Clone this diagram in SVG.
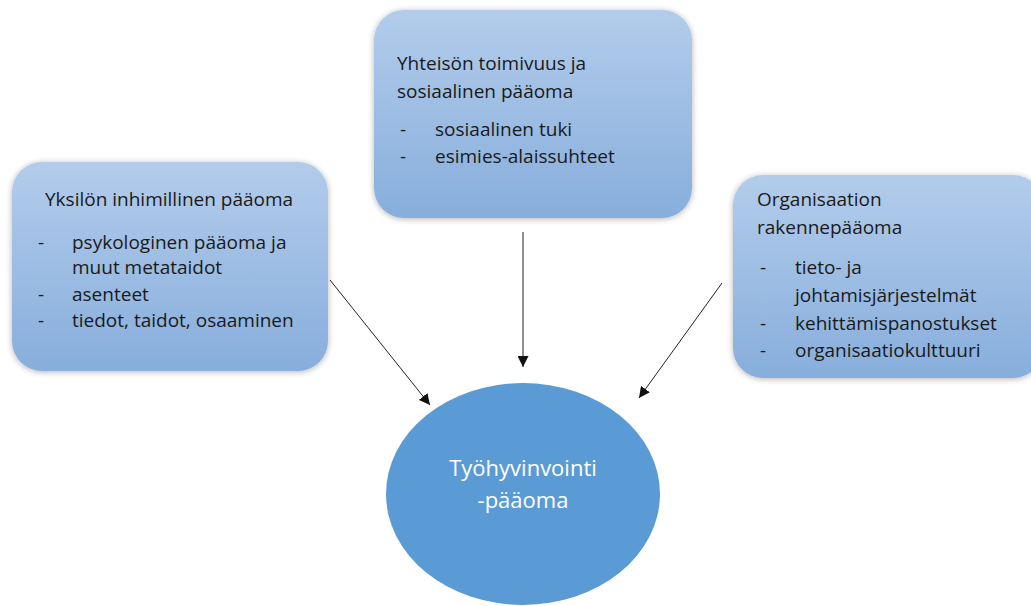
<svg xmlns="http://www.w3.org/2000/svg" width="1031" height="606" viewBox="0 0 1031 606">
<defs>
<linearGradient id="boxg" x1="0" y1="0" x2="0" y2="1">
<stop offset="0" stop-color="#b3cceb"/>
<stop offset="1" stop-color="#87aedc"/>
</linearGradient>
<filter id="sh" x="-10%" y="-10%" width="120%" height="120%">
<feGaussianBlur in="SourceAlpha" stdDeviation="3"/>
<feOffset dx="0" dy="1"/>
<feComponentTransfer><feFuncA type="linear" slope="0.3"/></feComponentTransfer>
<feMerge><feMergeNode/><feMergeNode in="SourceGraphic"/></feMerge>
</filter>
<marker id="ah" viewBox="0 0 10 10" refX="10" refY="5" markerWidth="11" markerHeight="11" markerUnits="userSpaceOnUse" orient="auto">
<path d="M0,0 L10,5 L0,10 z" fill="#111"/>
</marker>
<style>
.box{fill:url(#boxg);filter:url(#sh);}
.t{font-family:"Open Sans","Liberation Sans",sans-serif;font-size:19px;fill:#1a1a1a;}
.c{font-family:"Open Sans","Liberation Sans",sans-serif;font-size:22px;fill:#ffffff;text-anchor:middle;}
.ln{stroke:#222;stroke-width:1;fill:none;marker-end:url(#ah);}
</style>
</defs>
<rect width="1031" height="606" fill="#ffffff"/>
<g id="connectors">
<line class="ln" x1="330" y1="280" x2="430" y2="405"/>
<line class="ln" x1="523" y1="232" x2="523" y2="367"/>
<line class="ln" x1="722" y1="283" x2="639" y2="398"/>
</g>
<g id="node-left">
<rect class="box" x="12" y="162" width="316" height="209" rx="30" ry="30"/>
<text class="t" x="45" y="206">Yksilön inhimillinen pääoma</text>
<text class="t" x="38" y="249">-</text><text class="t" x="72" y="249">psykologinen pääoma ja</text>
<text class="t" x="72" y="274">muut metataidot</text>
<text class="t" x="38" y="301">-</text><text class="t" x="72" y="301">asenteet</text>
<text class="t" x="38" y="327">-</text><text class="t" x="72" y="327">tiedot, taidot, osaaminen</text>
</g>
<g id="node-top">
<rect class="box" x="374" y="10" width="318" height="208" rx="30" ry="30"/>
<text class="t" x="397" y="70">Yhteisön toimivuus ja</text>
<text class="t" x="397" y="98">sosiaalinen pääoma</text>
<text class="t" x="400" y="136">-</text><text class="t" x="435" y="136">sosiaalinen tuki</text>
<text class="t" x="400" y="163">-</text><text class="t" x="435" y="163">esimies-alaissuhteet</text>
</g>
<g id="node-right">
<rect class="box" x="733" y="175" width="310" height="203" rx="30" ry="30"/>
<text class="t" x="757" y="206">Organisaation</text>
<text class="t" x="757" y="234">rakennepääoma</text>
<text class="t" x="760" y="274">-</text><text class="t" x="795" y="274">tieto- ja</text>
<text class="t" x="795" y="302">johtamisjärjestelmät</text>
<text class="t" x="760" y="330">-</text><text class="t" x="795" y="330">kehittämispanostukset</text>
<text class="t" x="760" y="357">-</text><text class="t" x="795" y="357">organisaatiokulttuuri</text>
</g>
<g id="node-center">
<ellipse cx="523" cy="494" rx="137" ry="111" fill="#5b9bd5"/>
<text class="c" x="523" y="476">Työhyvinvointi</text>
<text class="c" x="523" y="508">-pääoma</text>
</g>
</svg>
